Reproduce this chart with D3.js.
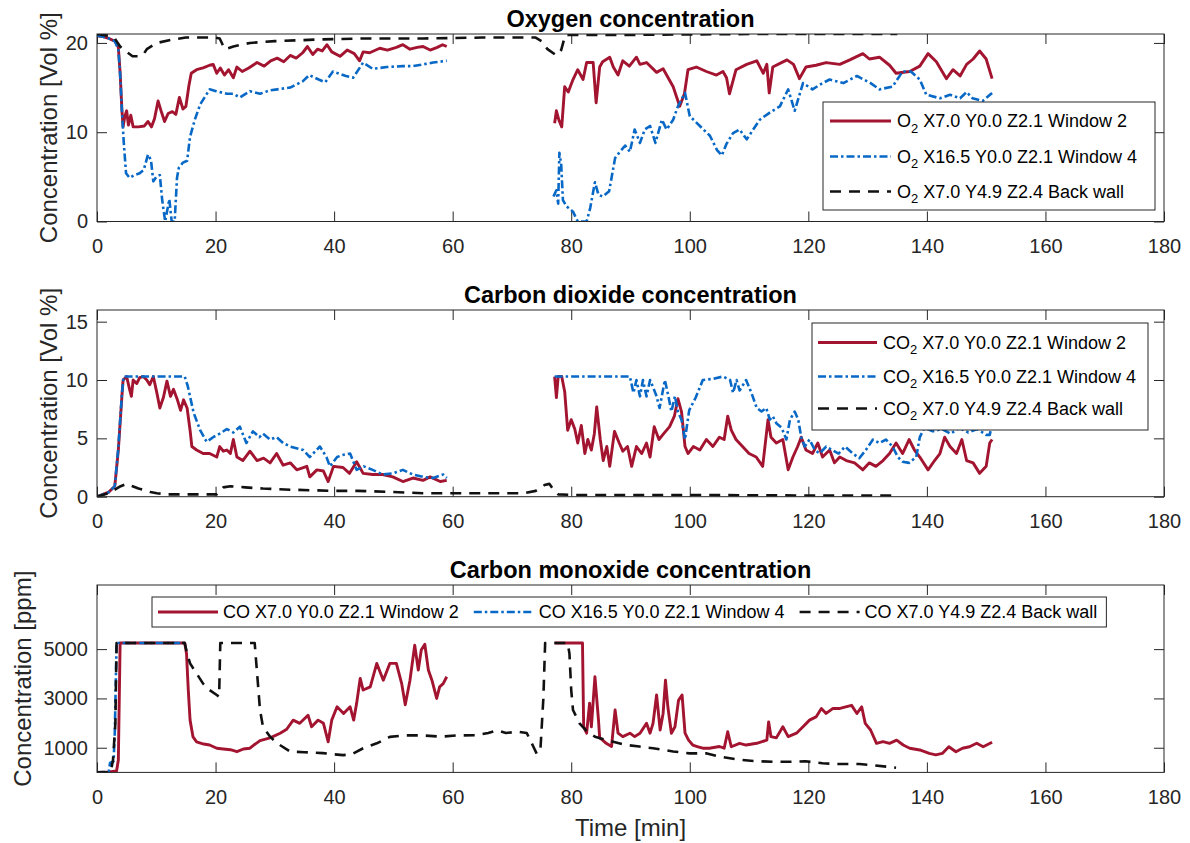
<!DOCTYPE html>
<html>
<head>
<meta charset="utf-8">
<script src="https://cdn.jsdelivr.net/npm/d3@7"></script>
<style>
  body { margin: 0; background: #fff; }
  svg { display: block; }
  text { font-family: "Liberation Sans", Arial, Helvetica, sans-serif; }
</style>
</head>
<body>
<svg id="chart" width="1190" height="843"></svg>
<script>
// ---------- tick labels ----------
const timeTicks = [0, 20, 40, 60, 80, 100, 120, 140, 160, 180];
const o2Ticks = [0, 10, 20];
const co2Ticks = [0, 5, 10, 15];
const coTicks = [1000, 3000, 5000];

// ---------- legend labels (_{x} marks a subscript) ----------
const o2Labels = ["O_{2} X7.0 Y0.0 Z2.1 Window 2", "O_{2} X16.5 Y0.0 Z2.1 Window 4", "O_{2} X7.0 Y4.9 Z2.4 Back wall"];
const co2Labels = ["CO_{2} X7.0 Y0.0 Z2.1 Window 2", "CO_{2} X16.5 Y0.0 Z2.1 Window 4", "CO_{2} X7.0 Y4.9 Z2.4 Back wall"];
const coLabels = ["CO X7.0 Y0.0 Z2.1 Window 2", "CO X16.5 Y0.0 Z2.1 Window 4", "CO X7.0 Y4.9 Z2.4 Back wall"];

// ---------- O2 [Vol %], [time min, value] ----------
const o2Win2First = [[0,20.8],[1,20.7],[2,20.5],[3,20.2],[3.6,19.5],[3.9,16.7],[4.2,12.5],[4.4,10.6],[4.7,11.8],[5,12.4],[5.3,10.8],[5.7,11.9],[6.1,10.6],[7,10.6],[8,10.7],[8.6,11.2],[9.2,10.6],[9.7,11.5],[10.3,13.5],[10.9,12.2],[11.4,11.2],[12,12.1],[12.7,12.3],[13.3,12.0],[13.9,13.9],[14.5,12.6],[15,12.9],[15.5,15.2],[15.9,16.6],[16.8,17.0],[17.9,17.2],[19.0,17.5],[19.6,17.6],[20.2,16.6],[20.8,17.2],[21.5,16.4],[22.2,17.0],[23.0,16.1],[23.6,17.3],[24.5,16.8],[25.6,17.2],[27.0,17.8],[28.2,17.4],[29.3,18.0],[30.4,18.3],[31.5,17.9],[32.6,18.6],[33.6,18.3],[34.7,18.9],[35.5,19.6],[36.4,18.7],[37.2,19.3],[38.0,19.1],[38.8,19.8],[39.6,19.0],[41.0,18.5],[42.2,19.2],[43.4,18.8],[44.3,18.0],[44.9,19.0],[46.0,18.9],[47.7,19.4],[49.0,19.2],[50.5,19.5],[51.6,19.8],[52.8,19.3],[54.0,19.5],[55.0,19.6],[56.2,19.2],[57.4,19.5],[58.3,19.8],[59,19.6]];
const o2Win2Second = [[77.2,11.0],[77.5,12.4],[77.9,11.4],[78.4,10.6],[78.9,15.1],[79.5,14.5],[80.3,15.9],[81.1,17.0],[82.0,15.9],[82.6,17.8],[83.7,17.8],[84.2,13.3],[84.8,17.3],[85.3,17.9],[86.5,18.4],[87.1,17.3],[87.9,16.4],[88.7,18.0],[89.8,17.4],[91.0,18.4],[91.6,17.6],[92.7,17.8],[94.4,16.7],[95.5,17.1],[97.2,15.1],[98.3,12.9],[99.1,14.3],[99.7,17.0],[101.1,17.3],[102.8,16.8],[104.5,16.4],[105.6,16.8],[106.2,16.1],[106.7,14.3],[107.8,17.0],[109.6,17.6],[111.3,18.0],[112.4,16.6],[113.0,17.6],[113.4,14.4],[114.0,17.3],[116.4,18.1],[117.5,17.6],[118.5,16.0],[119.6,17.3],[121.3,17.5],[123.0,17.8],[125.3,17.6],[127.0,18.1],[129.2,18.8],[130.3,18.2],[132.0,18.4],[133.7,17.5],[134.8,16.6],[137.1,16.8],[138.8,17.4],[140.2,18.8],[141.6,17.9],[143.3,16.0],[144.4,17.0],[145.6,16.3],[146.7,17.6],[147.8,18.2],[148.9,19.1],[150.0,18.2],[151.0,16.0]];
const o2Win4First = [[0,20.8],[1,20.7],[2,20.5],[3,20.2],[3.6,19.3],[3.9,16.5],[4.2,12.5],[4.5,9.0],[4.9,5.4],[5.5,4.9],[6.3,5.2],[7.2,5.4],[7.9,5.8],[8.6,7.5],[9.1,6.9],[9.5,4.5],[10.0,5.0],[10.6,5.2],[11.0,2.4],[11.5,0],[12.2,2.5],[12.6,0],[13.1,0],[13.5,4.9],[13.8,6.0],[14.5,6.6],[15.2,6.8],[15.7,9.5],[16.5,11.4],[17.4,13.1],[19.0,14.8],[20.1,14.6],[21.9,14.3],[23.0,14.3],[24.1,13.9],[25.8,14.6],[27.5,14.3],[29.2,14.7],[30.4,14.8],[32.6,15.0],[34.7,15.7],[35.8,16.4],[37.4,15.9],[38.5,15.6],[39.8,16.8],[42.0,16.3],[43.2,16.1],[44.9,17.8],[46.5,17.1],[48.9,17.3],[51.6,17.4],[53.3,17.4],[55.0,17.6],[56.7,17.8],[59,18.0]];
const o2Win4Second = [[77.0,2.8],[77.5,3.5],[77.8,2.0],[78.0,7.7],[78.3,6.5],[78.6,2.4],[79.2,1.7],[80.3,1.1],[81.1,0],[82.6,0],[83.2,1.5],[84.0,4.4],[84.6,3.0],[85.3,2.8],[86.4,3.4],[87.4,7.1],[88.2,7.8],[89.1,8.5],[89.9,7.8],[90.7,10.3],[91.6,8.8],[92.4,10.3],[93.3,10.7],[94.2,8.8],[95.3,11.4],[96.1,10.3],[97.2,11.4],[98.0,12.9],[99.2,14.4],[100.0,11.8],[101.7,10.7],[103.4,9.6],[104.6,8.0],[105.4,7.4],[106.2,8.7],[107.3,9.9],[108.4,10.3],[109.6,9.2],[110.7,10.3],[111.8,11.4],[113.5,12.2],[115.2,12.9],[116.6,14.8],[117.7,12.4],[119.1,15.5],[120.7,14.8],[122.4,15.5],[123.6,15.9],[125.9,15.5],[128.2,16.3],[130.5,15.5],[132.0,14.8],[134.2,15.1],[135.9,16.8],[137.3,16.8],[138.8,15.9],[139.9,14.2],[142.2,13.8],[143.9,14.2],[145.6,13.8],[146.7,14.5],[147.7,13.8],[149.4,13.5],[151.0,14.4]];
const o2Wall = [[0,21],[2,20.8],[3,20.5],[3.9,19.6],[5,19.0],[6,18.5],[7,18.5],[7.8,18.7],[8.4,19.3],[10.1,20.0],[12.9,20.4],[15,20.6],[20,20.6],[20.7,20.5],[21.2,19.8],[21.6,19.3],[23,19.6],[25.8,20.0],[30,20.2],[38.1,20.4],[45,20.5],[55,20.5],[65,20.6],[74,20.6],[75,20.2],[76,19.3],[77.5,18.6],[78.3,19.2],[79,20.9],[90,20.9],[110,21],[135,21]];

// ---------- CO2 [Vol %] ----------
const co2Win2First = [[0,0],[1,0.2],[2,0.4],[3,0.9],[3.6,4.0],[4.2,8.6],[4.4,10.0],[5,10.3],[5.5,9.2],[5.8,8.6],[6.1,10.0],[6.7,9.7],[7.2,10.2],[7.8,10.3],[8.4,10.0],[8.9,9.6],[9.5,10.3],[10.1,8.9],[10.6,7.6],[11.2,8.5],[11.8,9.9],[12.4,8.6],[12.9,9.2],[13.5,8.4],[14.1,7.4],[14.6,8.3],[15.2,7.6],[15.7,5.7],[16.0,4.3],[16.8,4.0],[17.9,3.7],[19.0,3.7],[20.2,3.4],[20.7,4.3],[21.3,3.9],[21.9,4.0],[22.5,3.7],[23.0,4.9],[23.6,3.4],[24.6,3.1],[25.8,3.9],[27.0,3.1],[28.1,3.3],[29.2,2.9],[30.3,3.7],[31.4,2.7],[32.6,2.9],[33.7,2.3],[35.4,2.6],[35.9,1.7],[37.1,2.3],[38.2,2.2],[39.0,1.3],[39.9,2.6],[41.5,2.5],[42.6,2.0],[43.8,3.0],[44.9,2.0],[46.5,1.9],[48.2,1.9],[49.9,1.7],[51.6,1.3],[53.3,1.6],[55.0,1.4],[56.2,1.7],[57.9,1.3],[59,1.4]];
const co2Win2Second = [[77.2,10.3],[77.5,8.5],[77.8,10.3],[78.4,10.3],[78.9,9.0],[79.4,5.7],[80.0,6.6],[80.6,5.8],[81.1,4.6],[81.7,6.1],[82.3,3.7],[82.8,4.9],[83.4,4.0],[83.9,5.4],[84.3,7.7],[84.9,4.9],[85.4,3.1],[86.0,4.3],[86.5,2.6],[87.3,5.6],[88.1,4.6],[88.7,3.9],[89.5,4.3],[90.2,2.6],[91.0,4.3],[91.9,3.7],[92.7,4.6],[93.3,3.4],[94.0,6.0],[94.8,4.9],[95.6,5.4],[96.6,6.0],[97.4,6.9],[98.0,8.4],[98.6,7.3],[99.2,4.3],[99.7,3.7],[100.6,4.3],[101.7,4.0],[102.8,4.9],[103.9,4.3],[105.0,5.1],[105.8,4.9],[106.4,6.9],[107.0,5.7],[107.8,4.9],[108.9,4.3],[110.0,3.7],[111.2,3.4],[112.3,2.6],[113.2,6.6],[113.7,5.1],[114.6,4.6],[115.7,4.9],[116.6,2.3],[117.4,3.4],[118.2,4.3],[118.8,5.1],[119.6,4.0],[120.7,3.7],[121.6,4.6],[122.4,3.4],[123.6,4.0],[124.4,2.9],[125.3,3.4],[126.4,3.1],[127.8,2.9],[129.2,2.3],[130.3,2.9],[131.4,2.6],[132.6,3.1],[133.7,3.7],[134.8,4.6],[135.9,3.7],[137.0,4.9],[137.9,4.0],[138.8,3.4],[140.2,2.3],[141.3,3.1],[142.2,3.7],[143.0,5.1],[143.9,4.3],[145.0,3.7],[145.9,4.9],[146.7,3.1],[147.8,2.9],[148.9,2.0],[150.0,2.6],[150.6,4.6],[151,4.9]];
const co2Win4First = [[0,0],[1,0.2],[2,0.4],[3,0.9],[3.6,4.2],[4.2,8.8],[4.5,10.3],[14.8,10.3],[15.3,9.5],[16.3,7.2],[17.4,5.7],[18.5,4.7],[19.6,5.1],[20.7,5.4],[21.9,5.8],[23.0,5.5],[24.1,6.0],[25.2,4.6],[26.3,5.6],[27.4,5.1],[28.0,5.4],[29.2,4.9],[30.3,5.1],[31.4,4.6],[32.6,4.3],[34.8,4.0],[35.9,3.4],[37.6,4.3],[38.7,3.4],[39.3,2.6],[40.5,3.4],[41.6,3.6],[42.7,3.7],[43.8,2.3],[45.0,2.6],[46.5,2.3],[48.2,1.9],[49.9,2.0],[51.6,2.3],[53.3,1.9],[55.0,1.7],[56.7,1.6],[58.4,1.9],[59,1.6]];
const co2Win4Second = [[77.2,10.3],[89.9,10.3],[90.5,8.9],[91.0,10.0],[91.6,8.6],[92.1,10.0],[92.7,8.6],[93.3,10.0],[93.8,9.4],[94.4,8.6],[94.9,7.6],[95.8,10.0],[96.4,8.6],[96.9,7.3],[97.5,8.6],[98.0,7.3],[98.6,6.6],[99.2,4.9],[99.5,6.0],[99.9,7.4],[101.0,8.5],[102.2,10.0],[103.9,10.1],[105.6,10.3],[106.8,10.0],[107.3,8.9],[107.9,10.0],[108.4,9.1],[109.5,10.0],[110.4,8.9],[111.3,7.6],[112.1,7.3],[112.9,7.6],[113.5,6.6],[114.0,6.9],[114.6,6.3],[115.5,5.9],[116.3,4.9],[116.9,6.6],[117.7,7.3],[118.3,6.6],[118.8,5.1],[119.4,4.3],[120.2,4.9],[121.1,4.0],[121.9,3.7],[123.0,4.3],[124.0,4.0],[125.1,3.7],[126.2,4.3],[127.5,3.7],[128.6,3.3],[129.7,4.0],[130.9,4.9],[132.0,4.6],[133.1,4.9],[134.2,4.3],[135.1,3.4],[135.9,3.0],[137.0,2.9],[138.2,3.4],[138.8,5.1],[139.6,5.9],[141.0,5.6],[142.5,5.8],[144.0,5.4],[145.5,5.9],[147.0,5.5],[148.5,5.8],[150.0,5.3],[150.6,5.3],[151,6.2]];
const co2Wall = [[0,0],[2,0.3],[3,0.6],[4,0.9],[5,1.1],[6,0.9],[7,0.7],[7.8,0.6],[9,0.4],[10.1,0.3],[12,0.2],[20.2,0.2],[21.3,0.8],[22.5,0.9],[25,0.8],[28,0.7],[32.6,0.6],[40,0.5],[44,0.5],[50,0.4],[55,0.3],[60.6,0.3],[66,0.3],[72,0.3],[74,0.5],[75.5,1.0],[76.3,1.1],[77,0.6],[77.8,0.2],[80,0.15],[100,0.15],[120,0.1],[135,0.1]];

// ---------- CO [ppm] ----------
const coWin2First = [[0,0],[2,20],[3.3,60],[3.6,500],[3.9,5250],[14.8,5250],[15.1,4820],[15.4,3340],[15.7,2120],[16.2,1440],[16.8,1240],[18,1150],[19,1110],[20.2,980],[21.3,950],[22.5,920],[23.6,840],[24.7,950],[25.8,980],[26.4,1100],[27.5,1290],[29.2,1400],[30.9,1590],[32,1750],[33.1,2120],[34.2,1990],[35.6,2320],[36.2,1850],[37.3,2120],[38.2,1990],[39.0,1240],[39.6,2120],[40.5,2660],[41.6,2390],[42.7,2660],[43.3,2120],[43.8,2800],[44.4,3810],[44.9,3340],[46.1,3470],[47.2,4420],[48.3,3740],[49.4,4420],[50.5,4420],[51.4,3600],[52.0,2740],[52.8,3740],[53.6,5160],[54.2,4150],[54.7,4960],[55.3,5200],[55.9,4150],[56.5,3740],[57.3,3000],[57.8,3470],[58.4,3600],[59,3880]];
const coWin2Second = [[77.2,5250],[81.9,5250],[82.1,1850],[82.6,1590],[83.1,2810],[83.4,1850],[84.0,3880],[84.6,2120],[84.8,1400],[85.3,1310],[85.9,1180],[86.8,1050],[87.4,2530],[87.9,1590],[88.7,1450],[89.9,1590],[90.7,1450],[91.6,1590],[92.7,1990],[93.3,1590],[93.8,1990],[94.4,3140],[95.0,1720],[95.5,2390],[95.9,3740],[96.3,2660],[96.9,1590],[97.5,1850],[98.1,2920],[98.7,3140],[99.2,1590],[99.8,1310],[100.5,1110],[101.4,1040],[102.2,980],[103.3,980],[105,1050],[105.8,980],[106.4,1650],[107,1040],[108.4,1180],[109.5,1110],[111.3,1180],[113,1310],[113.3,2050],[113.7,1450],[114.6,1400],[115.7,1850],[116.6,1450],[118,1590],[119.1,1850],[120.2,2120],[121.3,2250],[122.2,2590],[123.0,2390],[124.1,2590],[125.2,2590],[126.3,2660],[127.3,2720],[128.2,2390],[129.0,2660],[129.6,1990],[130.5,1720],[131.5,1180],[132.6,1250],[133.7,1180],[134.9,1310],[136.0,1110],[137.1,980],[138.8,910],[140.4,770],[141.5,710],[142.6,770],[143.7,1040],[144.9,840],[146.0,980],[147.2,1040],[148.4,1180],[149.5,1040],[151,1220]];
const coWin4 = [[0,0],[1.5,20],[2.0,60],[2.2,380],[2.8,450],[3.0,1600],[3.3,5250],[14.8,5250]];
const coWall = [[0,0],[2.3,0],[2.7,500],[3.1,2000],[3.3,5250],[14.8,5250],[15.2,4820],[15.7,4420],[16.8,4010],[17.9,3600],[19,3340],[20.2,3140],[20.6,3070],[20.8,5250],[26.6,5250],[27.1,3740],[27.5,2530],[28,1850],[29.2,1450],[30.4,1180],[32.6,840],[35,820],[38.1,780],[41.5,700],[43,740],[44.9,980],[47.2,1180],[49.4,1440],[52,1500],[55,1500],[58,1450],[60.7,1500],[64,1510],[66,1600],[67.5,1700],[69,1600],[71,1650],[72.5,1600],[73.5,1100],[74.2,750],[74.8,900],[75.3,3000],[75.6,5250],[79.4,5250],[79.7,4820],[80.0,3340],[80.3,2530],[81.4,1990],[82.5,1700],[84,1450],[86,1310],[89.3,1110],[91.5,1050],[93.8,980],[97.2,850],[100,770],[102.9,770],[105,640],[108.4,510],[111,460],[114,430],[117.4,430],[119.5,450],[122.4,370],[125,340],[128.6,340],[131,290],[134.8,190]];

// ---------- styles ----------
const win2Style = { color: "#a2142f", dash: null, width: 2.9 };
const win4Style = { color: "#0868c6", dash: "8,3,2.5,3", width: 2.6 };
const wallStyle = { color: "#111111", dash: "11,8", width: 2.6 };
const axisColor = "#262626";
const fontFamily = '"Liberation Sans", Arial, Helvetica, sans-serif';

const svg = d3.select("#chart");
const plotLeft = 97, plotRight = 1164;
const x = d3.scaleLinear().domain([0, 180]).range([plotLeft, plotRight]);

const panels = [
  {
    key: "o2", title: "Oxygen concentration", yLabel: "Concentration [Vol %]",
    top: 34, bottom: 221.5, domain: [0, 21], yTicks: o2Ticks, yLabelX: 57,
    series: [
      { segs: [o2Win2First, o2Win2Second], style: win2Style },
      { segs: [o2Win4First, o2Win4Second], style: win4Style },
      { segs: [o2Wall], style: wallStyle }
    ],
    legend: { kind: "column", x0: 823, y0: 102, x1: 1155, y1: 210, rows: [121, 156.5, 191.5], lineX: [830, 891], textX: 897, labels: o2Labels }
  },
  {
    key: "co2", title: "Carbon dioxide concentration", yLabel: "Concentration [Vol %]",
    top: 310, bottom: 496.7, domain: [0, 16], yTicks: co2Ticks, yLabelX: 57,
    series: [
      { segs: [co2Win2First, co2Win2Second], style: win2Style },
      { segs: [co2Win4First, co2Win4Second], style: win4Style },
      { segs: [co2Wall], style: wallStyle }
    ],
    legend: { kind: "column", x0: 812, y0: 323, x1: 1148, y1: 430, rows: [342.5, 376.5, 408.5], lineX: [818, 877], textX: 883, labels: co2Labels }
  },
  {
    key: "co", title: "Carbon monoxide concentration", yLabel: "Concentration [ppm]",
    top: 585, bottom: 772.4, domain: [0, 7600], yTicks: coTicks, yLabelX: 31,
    series: [
      { segs: [coWin2First, coWin2Second], style: win2Style },
      { segs: [coWin4], style: win4Style },
      { segs: [coWall], style: wallStyle }
    ],
    legend: { kind: "row", x0: 152, y0: 597, y1: 627, rowY: 612, lineLen: 60, labels: coLabels }
  }
];

// Writes a label into a text node, turning _{..} into a lowered, smaller tspan.
function writeLabel(textSel, label, size) {
  const parts = label.split(/_\{(.*?)\}/);
  let lowered = false;
  parts.forEach((part, i) => {
    if (part === "") return;
    const isSub = i % 2 === 1;
    const t = textSel.append("tspan").text(part);
    if (isSub) {
      t.attr("font-size", size * 0.72).attr("dy", 5.5);
      lowered = true;
    } else {
      t.attr("font-size", size);
      if (lowered) { t.attr("dy", -5.5); lowered = false; }
    }
  });
}

const legendStyles = [win2Style, win4Style, wallStyle];

panels.forEach(p => {
  const y = d3.scaleLinear().domain(p.domain).range([p.bottom, p.top]);
  const g = svg.append("g").attr("class", "panel-" + p.key);
  const clipId = "clip-" + p.key;
  svg.append("clipPath").attr("id", clipId).append("rect")
    .attr("x", plotLeft).attr("y", p.top)
    .attr("width", plotRight - plotLeft).attr("height", p.bottom - p.top);

  // axes with inward ticks on all four sides
  const tickLen = 10;
  g.append("g").attr("transform", `translate(0,${p.bottom})`)
    .call(d3.axisBottom(x).tickValues(timeTicks).tickSizeInner(-tickLen).tickSizeOuter(0).tickPadding(17).tickFormat(d3.format("d")))
    .call(a => a.select(".domain").remove())
    .attr("font-size", 20).attr("font-family", fontFamily).attr("color", axisColor);
  g.append("g").attr("transform", `translate(0,${p.top})`)
    .call(d3.axisTop(x).tickValues(timeTicks).tickSizeInner(-tickLen).tickSizeOuter(0).tickFormat(""))
    .call(a => a.select(".domain").remove())
    .attr("color", axisColor);
  g.append("g").attr("transform", `translate(${plotLeft},0)`)
    .call(d3.axisLeft(y).tickValues(p.yTicks).tickSizeInner(-tickLen).tickSizeOuter(0).tickPadding(9).tickFormat(d3.format("d")))
    .call(a => a.select(".domain").remove())
    .attr("font-size", 20).attr("font-family", fontFamily).attr("color", axisColor);
  g.append("g").attr("transform", `translate(${plotRight},0)`)
    .call(d3.axisRight(y).tickValues(p.yTicks).tickSizeInner(-tickLen).tickSizeOuter(0).tickFormat(""))
    .call(a => a.select(".domain").remove())
    .attr("color", axisColor);

  // data lines
  const line = d3.line().x(d => x(d[0])).y(d => y(d[1]));
  const lines = g.append("g").attr("clip-path", `url(#${clipId})`);
  p.series.forEach(s => {
    s.segs.forEach(seg => {
      lines.append("path").datum(seg)
        .attr("fill", "none")
        .attr("stroke", s.style.color)
        .attr("stroke-width", s.style.width)
        .attr("stroke-dasharray", s.style.dash)
        .attr("stroke-linejoin", "round")
        .attr("d", line);
    });
  });

  // frame
  g.append("rect").attr("x", plotLeft).attr("y", p.top)
    .attr("width", plotRight - plotLeft).attr("height", p.bottom - p.top)
    .attr("fill", "none").attr("stroke", axisColor).attr("stroke-width", 1);

  // title and y label
  g.append("text").attr("x", (plotLeft + plotRight) / 2).attr("y", p.top - 7)
    .attr("text-anchor", "middle").attr("font-size", 23.5).attr("font-weight", "bold")
    .attr("fill", "#000").text(p.title);
  g.append("text")
    .attr("transform", `translate(${p.yLabelX},${(p.top + p.bottom) / 2}) rotate(-90)`)
    .attr("text-anchor", "middle").attr("font-size", 24).attr("fill", axisColor)
    .text(p.yLabel);

  // legend
  const L = p.legend;
  const lg = g.append("g");
  if (L.kind === "column") {
    lg.append("rect").attr("x", L.x0).attr("y", L.y0).attr("width", L.x1 - L.x0).attr("height", L.y1 - L.y0)
      .attr("fill", "#fff").attr("stroke", axisColor).attr("stroke-width", 1);
    L.labels.forEach((lab, i) => {
      const st = legendStyles[i];
      lg.append("line").attr("x1", L.lineX[0]).attr("x2", L.lineX[1]).attr("y1", L.rows[i]).attr("y2", L.rows[i])
        .attr("stroke", st.color).attr("stroke-width", st.width).attr("stroke-dasharray", st.dash);
      const t = lg.append("text").attr("x", L.textX).attr("y", L.rows[i] + 6).attr("fill", "#000");
      writeLabel(t, lab, 18);
    });
  } else {
    const box = lg.append("rect").attr("fill", "#fff").attr("stroke", axisColor).attr("stroke-width", 1);
    let cx = L.x0 + 6;
    L.labels.forEach((lab, i) => {
      const st = legendStyles[i];
      lg.append("line").attr("x1", cx).attr("x2", cx + L.lineLen).attr("y1", L.rowY).attr("y2", L.rowY)
        .attr("stroke", st.color).attr("stroke-width", st.width).attr("stroke-dasharray", st.dash);
      cx += L.lineLen + 5;
      const t = lg.append("text").attr("x", cx).attr("y", L.rowY + 6).attr("fill", "#000");
      writeLabel(t, lab, 18);
      cx += t.node().getComputedTextLength() + 15;
    });
    box.attr("x", L.x0).attr("y", L.y0).attr("width", cx - 15 + 9 - L.x0).attr("height", L.y1 - L.y0);
  }
});

// shared x label
svg.append("text").attr("x", (plotLeft + plotRight) / 2).attr("y", 836)
  .attr("text-anchor", "middle").attr("font-size", 24).attr("fill", axisColor)
  .text("Time [min]");
</script>
</body>
</html>
